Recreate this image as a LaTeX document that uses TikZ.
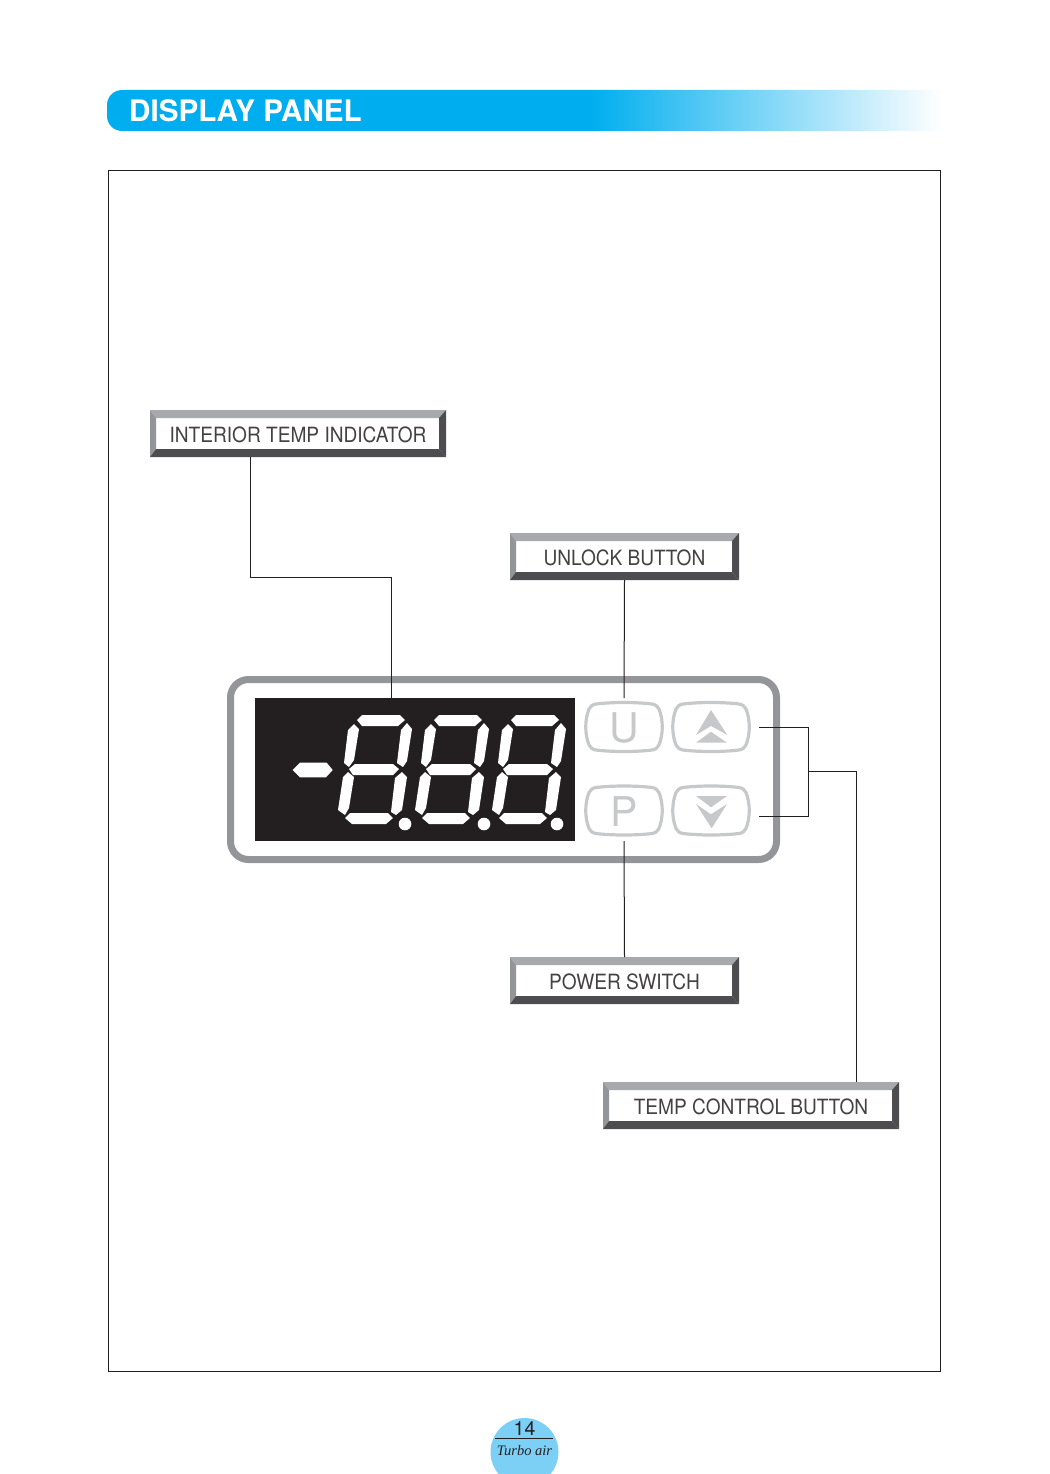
\documentclass[tikz,border=0pt]{standalone}
\usepackage{fontspec}
\setmainfont{TeX Gyre Heros}
\newfontfamily\brandfont{Liberation Serif}
\newfontfamily\labelfont[FakeStretch=0.91]{TeX Gyre Heros}
\usetikzlibrary{calc}
\definecolor{headblue}{HTML}{00AEEF}
\definecolor{footblue}{HTML}{7CCFF5}
\definecolor{inkblack}{HTML}{231F20}
\definecolor{panelgray}{HTML}{939598}
\definecolor{keygray}{HTML}{C7C8CA}
\definecolor{bevlight}{HTML}{A7A9AC}
\definecolor{bevdark}{HTML}{4D4D4F}
\pgfdeclarehorizontalshading{bandfade}{100bp}{color(0bp)=(headblue);color(54bp)=(headblue);color(75bp)=(white);color(100bp)=(white)}
\tikzset{
	wire/.style={inkblack,line width=1pt},
	labelbox/.style={fill=white,inner sep=0pt,outer sep=0pt,minimum height=47pt,text=inkblack!85,text height=17pt,text depth=0pt,font=\labelfont\fontsize{21}{21}\selectfont},
	keybtn/.style={inner sep=0pt,outer sep=0pt,minimum width=78pt,minimum height=50pt,text=keygray,text height=31pt,text depth=0pt,font=\fontsize{41}{41}\selectfont},
	segment/.style={fill=white},
	keyoutline/.pic={
		\draw[keygray,line width=3.2pt] (-28,-23) .. controls (-12,-25) and (12,-25) .. (28,-23)
			.. controls (35,-22) and (36,-16) .. (37.5,-9) .. controls (38.5,-3) and (38.5,3) .. (37.5,9)
			.. controls (36,16) and (35,22) .. (28,23) .. controls (12,25) and (-12,25) .. (-28,23)
			.. controls (-35,22) and (-36,16) .. (-37.5,9) .. controls (-38.5,3) and (-38.5,-3) .. (-37.5,-9)
			.. controls (-36,-16) and (-35,-22) .. (-28,-23) -- cycle;
	}
}
\begin{document}
\begin{tikzpicture}[x=1pt,y=-1pt]
	\useasboundingbox (0,0) rectangle (1049,1474);

	% header band
	\shade[shading=bandfade] (941,90) -- (122,90) arc[start angle=90,end angle=180,x radius=15,y radius=-15]
		-- (107,116) arc[start angle=180,end angle=270,x radius=15,y radius=-15] -- (941,131) -- cycle;
	\node[anchor=west,inner sep=0pt,text=white,font=\bfseries\fontsize{29.6}{29.6}\selectfont] (title) at (129,110.5) {DISPLAY PANEL};

	% frame
	\node[draw=inkblack,line width=1pt,inner sep=0pt,minimum width=832pt,minimum height=1201pt] (frame) at (524.5,771) {};

	% panel
	\draw[panelgray,line width=7pt,rounded corners=18pt] (230.5,679.5) rectangle (776.5,859.5);
	\node[fill=inkblack,inner sep=0pt,outer sep=0pt,minimum width=320pt,minimum height=143pt] (display) at (415,769.5) {};

	% minus sign and digits
	\fill[segment] (292.7,770) -- (300,762.7) -- (326.7,762.7) -- (332.7,770) -- (326,777.3) -- (300,777.3) -- cycle;
	\foreach \dx in {0,77,154}{
		\begin{scope}[shift={(\dx,0)}]
			\fill[segment] (357,720) -- (362,715) -- (400,715) -- (405,720) -- (398,726) -- (362,726) -- cycle;
			\fill[segment] (354,724) -- (359,729) -- (354,760) -- (349,767) -- (344,763) -- (348,730) -- cycle;
			\fill[segment] (407,723) -- (412,729) -- (407,761) -- (403,767) -- (397,763) -- (401,730) -- cycle;
			\fill[segment] (349,769) -- (355,764) -- (393,764) -- (399,769) -- (393,775) -- (353,775) -- cycle;
			\fill[segment] (348,772) -- (354,777) -- (349,808) -- (345,815) -- (338,810) -- (343,777) -- cycle;
			\fill[segment] (402,772) -- (407,777) -- (402,810) -- (396,815) -- (391,812) -- (395,778) -- cycle;
			\fill[segment] (345,818) -- (350,813) -- (388,813) -- (393,818) -- (386,824) -- (352,824) -- cycle;
		\end{scope}
	}
	\foreach \px in {405,484,557}
		\fill[segment] (\px,824) circle (6.3);

	% keys
	\node[keybtn] (ukey) at (624,727) {U};
	\node[keybtn] (pkey) at (624,810.5) {P};
	\coordinate (upkey) at (711,727);
	\coordinate (downkey) at (711,810.5);
	\pic at (ukey) {keyoutline};
	\pic at (pkey) {keyoutline};
	\pic at (upkey) {keyoutline};
	\pic at (downkey) {keyoutline};
	\fill[keygray] (711,710) -- (727.3,735) -- (711,726) -- (696,735) -- cycle;
	\fill[keygray] (711,731.7) -- (727,742.7) -- (696,742.7) -- cycle;
	\fill[keygray] (696,796) -- (727,796) -- (711,807.3) -- cycle;
	\fill[keygray] (696,804) -- (711,814.3) -- (727,804) -- (711.7,828.3) -- cycle;

	% labels
	\node[labelbox,minimum width=296pt] (interior) at (298,433.5) {INTERIOR TEMP INDICATOR};
	\node[labelbox,minimum width=229pt] (unlock) at (624.5,556.5) {UNLOCK BUTTON};
	\node[labelbox,minimum width=229pt] (power) at (624.5,980.5) {POWER SWITCH};
	\node[labelbox,minimum width=296pt] (tempctrl) at (751,1105.5) {TEMP CONTROL BUTTON};
	\foreach \n in {interior,unlock,power,tempctrl}{
		\fill[bevlight] (\n.north west) -- (\n.north east) -- ($(\n.north east)+(-7,8)$) -- ($(\n.north west)+(6,8)$) -- cycle;
		\fill[panelgray] (\n.north west) -- (\n.south west) -- ($(\n.south west)+(6,-8)$) -- ($(\n.north west)+(6,8)$) -- cycle;
		\fill[bevdark] (\n.south west) -- (\n.south east) -- ($(\n.south east)+(-7,-8)$) -- ($(\n.south west)+(6,-8)$) -- cycle;
		\fill[bevdark] (\n.north east) -- (\n.south east) -- ($(\n.south east)+(-7,-8)$) -- ($(\n.north east)+(-7,8)$) -- cycle;
	}

	% connectors
	\draw[wire] ([xshift=-48pt]interior.south) -- ++(0,120) -| ([xshift=-24pt]display.north);
	\draw[wire] (unlock.south) -- ([yshift=4pt]ukey.north);
	\draw[wire] ([yshift=-5.5pt]pkey.south) -- (power.north);
	\coordinate (upend) at (759,727.3);
	\coordinate (downend) at (759,816);
	\coordinate (bracket) at (808.3,771.5);
	\draw[wire] (upend) -| (bracket) |- (downend);
	\draw[wire] (bracket) -| ([xshift=105pt]tempctrl.north);

	% page badge
	\begin{scope}
		\clip (0,0) rectangle (1049,1474);
		\fill[footblue] (524.5,1452) circle (34);
	\end{scope}
	\node[inner sep=0pt,text=inkblack,font=\fontsize{19.5}{19.5}\selectfont] (pageno) at (524.5,1428.5) {14};
	\node[inner sep=0pt,text=inkblack,font=\brandfont\itshape\fontsize{14.5}{14.5}\selectfont] (brand) at (524.5,1451) {Turbo air};
	\coordinate (ruleleft) at (495,1438.5);
	\coordinate (ruleright) at (553,1438.5);
	\draw[wire] (ruleleft) -- (ruleright);
\end{tikzpicture}
\end{document}
